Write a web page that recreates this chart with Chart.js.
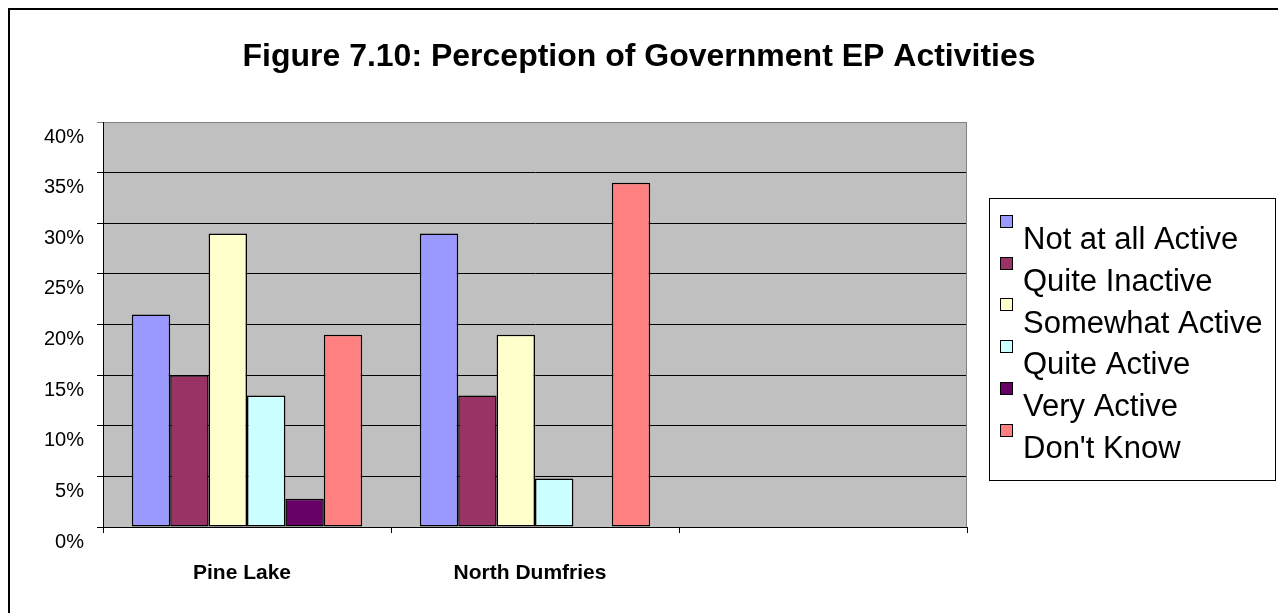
<!DOCTYPE html>
<html>
<head>
<meta charset="utf-8">
<script src="https://cdn.jsdelivr.net/npm/chart.js@4/dist/chart.umd.min.js"></script>
<style>
html,body{margin:0;padding:0;background:#fff;}
#wrap{width:1278px;height:613px;position:relative;}
</style>
</head>
<body>
<div id="wrap"><canvas id="c"></canvas></div>
<script>
// ---- data ----
const categories = ['Pine Lake', 'North Dumfries', ''];
const seriesNames = ['Not at all Active', 'Quite Inactive', 'Somewhat Active', 'Quite Active', 'Very Active', "Don't Know"];
const notAtAllActive = [21, 29, null];
const quiteInactive  = [15, 13, null];
const somewhatActive = [29, 19, null];
const quiteActive    = [13, 4.8, null];
const veryActive     = [2.8, 0, null];
const dontKnow       = [19, 34, null];
const seriesColors = ['#9999FF', '#993366', '#FFFFCC', '#CCFFFF', '#660066', '#FF8080'];
const yMin = 0, yMax = 40, yStep = 5;
const titleText = 'Figure 7.10: Perception of Government EP Activities';

const FONT = '"Liberation Sans", Arial, sans-serif';
const seriesValues = [notAtAllActive, quiteInactive, somewhatActive, quiteActive, veryActive, dontKnow];

const frameAndBg = {
  id: 'frameAndBg',
  beforeDraw(chart) {
    const {ctx, chartArea: a} = chart;
    ctx.save();
    ctx.fillStyle = '#fff';
    ctx.fillRect(0, 0, chart.width, chart.height);
    ctx.fillStyle = '#C0C0C0';
    ctx.fillRect(a.left, a.top, a.right - a.left, a.bottom - a.top);
    ctx.restore();
  },
  afterDraw(chart) {
    const {ctx, chartArea: a} = chart;
    ctx.save();
    // right edge of plot
    ctx.strokeStyle = '#808080';
    ctx.lineWidth = 1;
    ctx.beginPath();
    ctx.moveTo(a.right - 0.5, a.top);
    ctx.lineTo(a.right - 0.5, a.bottom);
    ctx.stroke();
    // outer frame
    ctx.strokeStyle = '#000';
    ctx.lineWidth = 2;
    ctx.strokeRect(9, 9, 1400, 800);
    // legend
    const L = 989, T = 198, W = 287, H = 282;
    ctx.fillStyle = '#fff';
    ctx.fillRect(L, T, W, H);
    ctx.strokeStyle = '#000';
    ctx.lineWidth = 1;
    ctx.strokeRect(L + 0.5, T + 0.5, W - 1, H);
    const pitch = 41.7;
    chart.data.datasets.forEach((ds, i) => {
      const sy = 215 + i * pitch;
      ctx.fillStyle = ds.backgroundColor;
      ctx.fillRect(1000, Math.round(sy), 13, 13);
      ctx.strokeStyle = '#000';
      ctx.lineWidth = 1;
      ctx.strokeRect(1000.5, Math.round(sy) + 0.5, 12, 12);
      ctx.fillStyle = '#000';
      ctx.font = '31px ' + FONT;
      ctx.textBaseline = 'alphabetic';
      ctx.textAlign = 'left';
      ctx.fillText(ds.label, 1023, 249.3 + i * pitch);
    });
    ctx.restore();
  }
};

new Chart(document.getElementById('c'), {
  type: 'bar',
  data: {
    labels: categories,
    datasets: seriesNames.map((name, i) => ({
      label: name,
      data: seriesValues[i],
      backgroundColor: seriesColors[i],
      borderColor: '#000',
      borderWidth: 1.5,
      borderSkipped: false,
      barPercentage: 1,
      categoryPercentage: 0.8
    }))
  },
  options: {
    responsive: true,
    maintainAspectRatio: false,
    animation: false,
    devicePixelRatio: 1,
    layout: {padding: 0},
    plugins: {
      legend: {display: false},
      tooltip: {enabled: false},
      title: {
        display: true,
        text: titleText,
        color: '#000',
        font: {family: FONT, size: 32, weight: 'bold', lineHeight: 1.2},
        padding: {top: 37.8, bottom: 45.8}
      }
    },
    scales: {
      x: {
        ticks: {font: {family: FONT, size: 21, weight: 'bold'}, color: '#000', padding: 28, labelOffset: -5, maxRotation: 0, autoSkip: false},
        grid: {offset: true, drawOnChartArea: false, drawTicks: true, tickLength: 6, color: '#000'},
        border: {color: '#000', width: 1},
        afterFit(s) { s.height = 86; }
      },
      y: {
        min: yMin, max: yMax,
        ticks: {stepSize: yStep, callback: v => v + '%', font: {family: FONT, size: 20}, color: '#000', padding: 13, labelOffset: 15},
        grid: {color: c => (c.tick && c.tick.value === yMax) ? '#808080' : '#000', lineWidth: 1, tickLength: 6, drawTicks: true},
        border: {color: '#000', width: 1},
        afterFit(s) { s.width = 103; }
      },
      yRight: {
        position: 'right', display: true, min: yMin, max: yMax,
        grid: {display: false, drawTicks: false},
        ticks: {display: false},
        border: {display: false},
        afterFit(s) { s.width = 311; }
      }
    }
  },
  plugins: [frameAndBg]
});
</script>
</body>
</html>
